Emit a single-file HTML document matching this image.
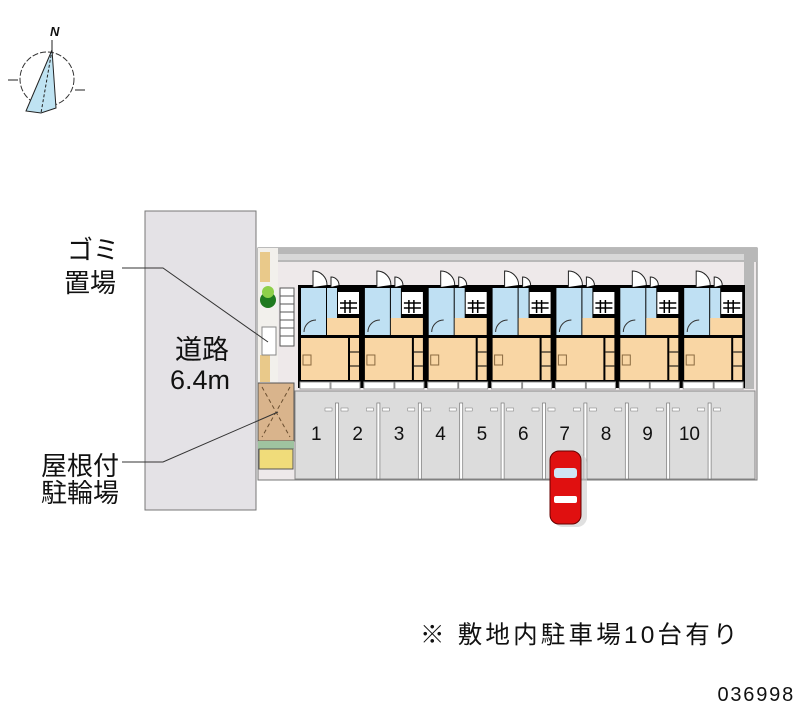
<!DOCTYPE html>
<html><head><meta charset="utf-8"><style>
html,body{margin:0;padding:0;background:#fff;width:800px;height:727px;overflow:hidden}
svg{display:block}
text{font-family:"Liberation Sans","Noto Sans CJK JP",sans-serif;fill:#111}
</style></head><body>
<svg width="800" height="727" viewBox="0 0 800 727" xmlns="http://www.w3.org/2000/svg">
<defs>
<g id="unit">
<rect x="3" y="288" width="25" height="47" fill="#bfe0f3"/>
<rect x="29" y="288" width="10" height="47" fill="#bfe0f3"/>
<rect x="40" y="292" width="21" height="22" fill="#fff"/>
<g stroke="#000" stroke-width="1.5"><line x1="42" y1="303" x2="59" y2="303"/><line x1="42" y1="308" x2="59" y2="308"/><line x1="47" y1="300" x2="47" y2="313"/><line x1="52" y1="300" x2="52" y2="313"/></g>
<rect x="29" y="318" width="32" height="17" fill="#f9d6a4"/>
<rect x="3" y="338" width="47" height="42" fill="#f9d6a4"/>
<rect x="52" y="338" width="9" height="42" fill="#f9d6a4"/>
<line x1="52" y1="352" x2="61" y2="352" stroke="#000"/><line x1="52" y1="366" x2="61" y2="366" stroke="#000"/>
<rect x="5" y="355" width="8" height="10" fill="none" stroke="#8a6a40"/>
<path d="M15 287 v-16 a14 14 0 0 1 14 14" fill="#fff" stroke="#222"/>
<path d="M33 287 v-10 a8 8 0 0 1 8 8" fill="#fff" stroke="#222"/>
<path d="M6 332 a12 12 0 0 1 12 -12" fill="none" stroke="#333"/>
<rect x="2" y="382" width="30" height="7" fill="#fff" stroke="#999"/>
<rect x="33" y="382" width="29" height="7" fill="#fff" stroke="#999"/>
</g>
<g id="stall">
<rect x="-1.5" y="403" width="3" height="76" fill="#fff" stroke="#777" stroke-width="0.7"/>
<rect x="-12" y="408" width="7" height="3" fill="#fff" stroke="#777" stroke-width="0.5"/>
<rect x="4" y="408" width="7" height="3" fill="#fff" stroke="#777" stroke-width="0.5"/>
</g>
</defs>
<!-- compass -->
<text x="50" y="36" font-size="13" font-style="italic" font-family="Liberation Serif,serif" font-weight="bold">N</text>
<circle cx="47" cy="79" r="27" fill="none" stroke="#333" stroke-width="1" stroke-dasharray="6,2"/>
<polygon points="52,50 26,111 41,113 56,108" fill="#bfe3f2" stroke="#222" stroke-width="1"/>
<line x1="52" y1="50" x2="52" y2="40" stroke="#222"/>
<line x1="52" y1="50" x2="41" y2="113" stroke="#222" stroke-dasharray="3,2"/>
<line x1="8" y1="80" x2="18" y2="80" stroke="#222"/><line x1="75" y1="90" x2="85" y2="90" stroke="#222"/>

<!-- road -->
<rect x="145" y="211" width="111" height="299" fill="#e4e2e6" stroke="#777" stroke-width="1"/>
<text x="202" y="359" font-size="27" text-anchor="middle">道路</text>
<text x="200" y="389" font-size="27" text-anchor="middle">6.4m</text>

<!-- site -->
<rect x="258" y="248" width="499" height="232" fill="#eee9ea" stroke="#777"/>
<rect x="258" y="248" width="499" height="14" fill="#b8b8b8"/>
<rect x="278" y="254" width="470" height="6" fill="#d8d8d8"/>
<rect x="744" y="254" width="10" height="135" fill="#b8b8b8"/>
<rect x="258" y="248" width="20" height="150" fill="#f2f0ec"/>
<rect x="260" y="252" width="10" height="30" fill="#e9c98a"/>
<rect x="260" y="355" width="10" height="27" fill="#e9c98a"/>
<rect x="262" y="327" width="14" height="28" fill="#fff" stroke="#888"/>
<circle cx="268" cy="300" r="8" fill="#1f7a1f"/><circle cx="268" cy="292" r="6" fill="#8ed04a"/>
<rect x="280" y="288" width="14" height="58" fill="#fff" stroke="#555"/>
<g stroke="#555"><line x1="280" y1="296" x2="294" y2="296"/><line x1="280" y1="304" x2="294" y2="304"/><line x1="280" y1="312" x2="294" y2="312"/><line x1="280" y1="320" x2="294" y2="320"/><line x1="280" y1="328" x2="294" y2="328"/><line x1="280" y1="336" x2="294" y2="336"/></g>

<!-- units -->
<rect x="298" y="285" width="447" height="103" fill="#000"/>
<use href="#unit" x="298"/>
<use href="#unit" x="361.9"/>
<use href="#unit" x="425.7"/>
<use href="#unit" x="489.6"/>
<use href="#unit" x="553.4"/>
<use href="#unit" x="617.3"/>
<use href="#unit" x="681.2"/>

<!-- parking -->
<rect x="295" y="391" width="460" height="88" fill="#dcdcdc" stroke="#888"/>
<use href="#stall" x="337"/><use href="#stall" x="378.4"/><use href="#stall" x="419.8"/><use href="#stall" x="461.2"/><use href="#stall" x="502.6"/>
<use href="#stall" x="544"/><use href="#stall" x="585.4"/><use href="#stall" x="626.8"/><use href="#stall" x="668.2"/><use href="#stall" x="709.6"/>
<g font-size="19" text-anchor="middle">
<text x="316.3" y="440">1</text><text x="357.7" y="440">2</text><text x="399.1" y="440">3</text><text x="440.5" y="440">4</text><text x="481.9" y="440">5</text>
<text x="523.3" y="440">6</text><text x="564.7" y="440">7</text><text x="606.1" y="440">8</text><text x="647.5" y="440">9</text><text x="689.4" y="440">10</text>
</g>

<!-- bike parking -->
<rect x="258" y="383" width="36" height="58" fill="#d9b48c" stroke="#555"/>
<path d="M262 387 L290 437 M290 387 L262 437" stroke="#6b4f30" stroke-dasharray="4,3"/>
<rect x="258" y="441" width="36" height="8" fill="#9fc3a0"/>
<rect x="259" y="449" width="34" height="20" fill="#f0dc7a" stroke="#555"/>

<!-- leaders -->
<polyline points="122,268 163,268 268,342" fill="none" stroke="#333"/>
<polyline points="122,462 163,462 278,412" fill="none" stroke="#333"/>
<text x="93" y="259" font-size="26" text-anchor="middle">ゴミ</text>
<text x="90" y="292" font-size="26" text-anchor="middle">置場</text>
<text x="80" y="475" font-size="26" text-anchor="middle">屋根付</text>
<text x="80" y="502" font-size="26" text-anchor="middle">駐輪場</text>

<!-- car -->
<rect x="553" y="453" width="34" height="74" rx="10" fill="#ccc" opacity="0.6"/>
<rect x="550" y="451" width="31" height="73" rx="9" fill="#e01010" stroke="#600" stroke-width="1"/>
<rect x="554" y="468" width="23" height="10" rx="3" fill="#cfe6f5"/>
<rect x="554" y="496" width="23" height="7" rx="2" fill="#fff"/>

<text x="420" y="643" font-size="24.5" letter-spacing="3.2">※ 敷地内駐車場10台有り</text>
<text x="795" y="701" font-size="20" text-anchor="end" letter-spacing="1.8">036998</text>
</svg>
</body></html>
